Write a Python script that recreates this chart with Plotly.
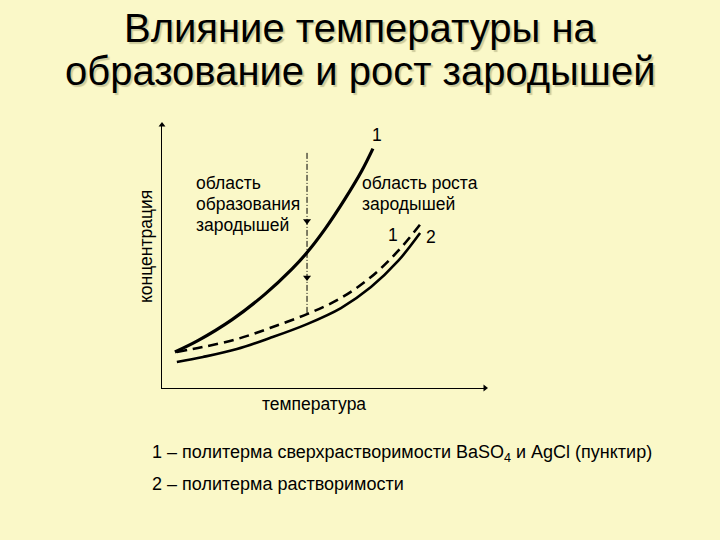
import plotly.graph_objects as go

# curve data, temperature (x) vs concentration (y), arbitrary units 0..10
t_super = [0.40, 1.11, 2.17, 3.19, 4.02, 4.49, 5.05, 5.67, 6.19, 6.53]
c_super = [1.37, 1.80, 2.60, 3.57, 4.52, 5.15, 6.05, 7.20, 8.27, 9.10]

t_dash = [0.46, 1.27, 2.32, 3.34, 4.49, 5.54, 6.47, 7.31, 8.05]
c_dash = [1.37, 1.56, 1.86, 2.28, 2.81, 3.42, 4.22, 5.21, 6.31]

t_sol = [0.46, 1.27, 2.32, 3.34, 4.49, 5.54, 6.47, 7.31, 7.99]
c_sol = [0.99, 1.18, 1.48, 1.90, 2.43, 3.04, 3.84, 4.83, 5.89]

# vertical separator and its arrows
t_sep = [4.49, 4.49]
c_sep = [8.94, 2.85]
c_arrows = [6.35, 4.20]

title_lines = ["Влияние температуры на", "образование и рост зародышей"]
left_label = ["область", "образования", "зародышей"]
right_label = ["область роста", "зародышей"]
notes = ["1 – политерма сверхрастворимости BaSO<sub>4</sub> и AgCl (пунктир)",
         "2 – политерма растворимости"]

BG = "#FAF8C8"
W, H = 720, 540


def px(x):
    return x / W


def py(y):
    return 1 - y / H


fig = go.Figure()

fig.add_trace(go.Scatter(x=t_super, y=c_super, mode="lines",
                         line=dict(color="black", width=3.2, shape="spline")))
fig.add_trace(go.Scatter(x=t_dash, y=c_dash, mode="lines",
                         line=dict(color="black", width=2.6, shape="spline",
                                   dash="10px,6px")))
fig.add_trace(go.Scatter(x=t_sol, y=c_sol, mode="lines",
                         line=dict(color="black", width=2.6, shape="spline")))
fig.add_trace(go.Scatter(x=t_sep, y=c_sep, mode="lines",
                         line=dict(color="black", width=1, dash="6px,2px,1px,2px")))
fig.add_trace(go.Scatter(x=[t_sep[0]] * len(c_arrows), y=c_arrows, mode="markers",
                         marker=dict(symbol="triangle-down", size=7, color="black")))
# axis arrowheads
fig.add_trace(go.Scatter(x=[10], y=[0], mode="markers", cliponaxis=False,
                         marker=dict(symbol="triangle-right", size=6, color="black")))
fig.add_trace(go.Scatter(x=[0], y=[10], mode="markers", cliponaxis=False,
                         marker=dict(symbol="triangle-up", size=6, color="black")))

anns = []
font = dict(family="Liberation Sans, Arial", size=17.5, color="black")


def label(x, y, text, anchor="left", **kw):
    anns.append(dict(x=px(x), y=py(y), xref="paper", yref="paper", text=text,
                     showarrow=False, xanchor=anchor, yanchor="middle", font=font, **kw))


# title with a soft shadow
for line, yc in zip(title_lines, [28, 71]):
    anns.append(dict(x=px(360), y=py(yc), xref="paper", yref="paper", text=line,
                     showarrow=False, xanchor="center", yanchor="middle",
                     font=dict(family="Liberation Sans, Arial", size=40, color="black",
                               shadow="2px 2px 1px #cdcb9c")))

# chart labels
label(146, 247, "концентрация", anchor="center", textangle=-90)
label(314, 404, "температура", anchor="center")
for text, yc in zip(left_label, [183, 204, 225]):
    label(194, yc, text)
for text, yc in zip(right_label, [183, 204]):
    label(360, yc, text)
label(377, 135, "1", anchor="center")
label(393, 235, "1", anchor="center")
label(431, 237, "2", anchor="center")

# footnotes
for note, yc in zip(notes, [453, 484]):
    anns.append(dict(x=px(150), y=py(yc), xref="paper", yref="paper", text=note,
                     showarrow=False, xanchor="left", yanchor="middle",
                     font=dict(family="Liberation Sans, Arial", size=18, color="black")))

axis_common = dict(showgrid=False, zeroline=False, showticklabels=False, ticks="",
                   showline=True, linecolor="black", linewidth=1.3)

fig.update_layout(
    width=W, height=H, autosize=False,
    margin=dict(l=0, r=0, t=0, b=0),
    paper_bgcolor=BG, plot_bgcolor=BG,
    showlegend=False,
    xaxis=dict(range=[0, 10], domain=[px(162), px(485)], **axis_common),
    yaxis=dict(range=[0, 10], domain=[py(388), py(125)], **axis_common),
    annotations=anns,
)

fig.write_html("out.html", config={"displayModeBar": False},
               post_script="document.body.style.margin='0';"
                           "document.body.style.background='%s';" % BG)
